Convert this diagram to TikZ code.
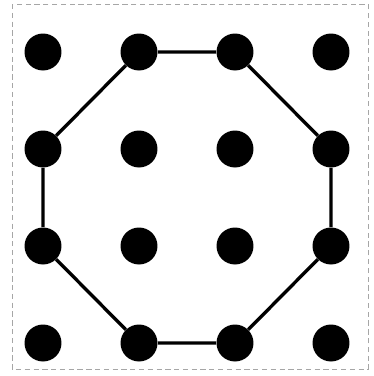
\documentclass[tikz,border=0pt]{standalone}
\usetikzlibrary{positioning}

\tikzset{
  dot/.style={circle,fill=black,inner sep=0pt,minimum size=0.74cm},
  edge/.style={line width=1.9pt},
  frame/.style={gray!70,line width=0.5pt,dash pattern=on 3pt off 2pt}
}

\begin{document}
\begin{tikzpicture}[x=0.02cm,y=-0.02cm]
  \useasboundingbox (0,0) rectangle (374,376);
  % dashed frame
  \draw[frame] (12,4) rectangle (368,369);

  % 4x4 grid of dots
  \foreach \i in {0,...,3}
    \foreach \j in {0,...,3}
      \node[dot] (d-\i-\j) at (43+96*\i,52+97*\j) {};

  % octagon
  \draw[edge] (d-1-0) -- (d-2-0) -- (d-3-1) -- (d-3-2) -- (d-2-3)
    -- (d-1-3) -- (d-0-2) -- (d-0-1) -- (d-1-0);
\end{tikzpicture}
\end{document}
